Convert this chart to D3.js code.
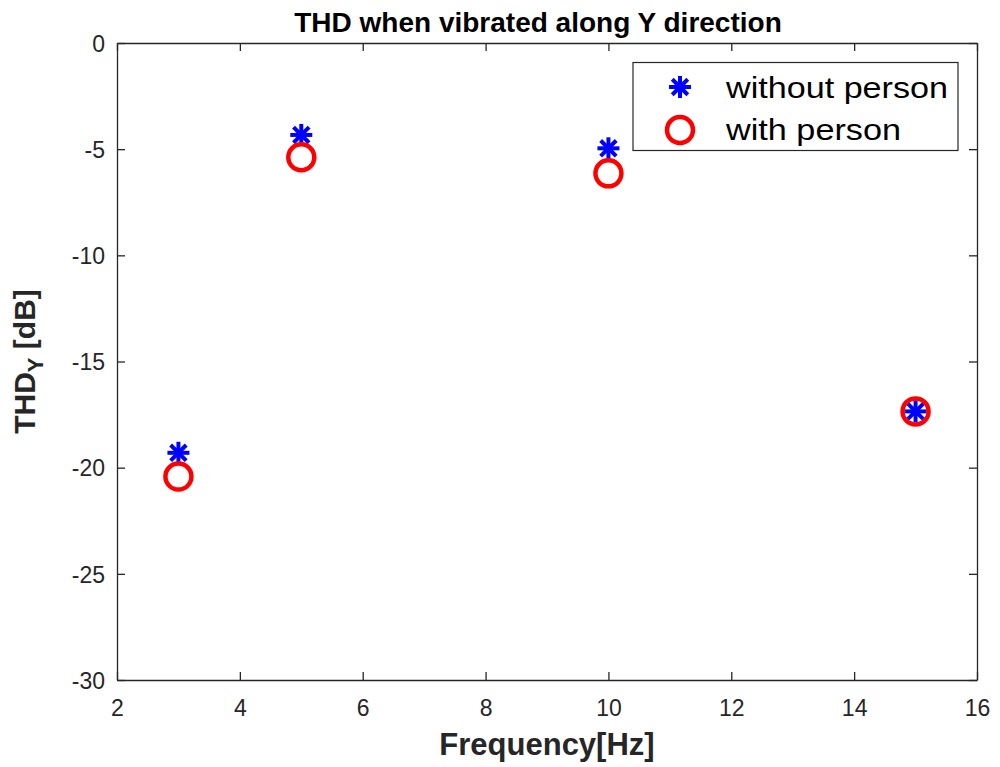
<!DOCTYPE html>
<html>
<head>
<meta charset="utf-8">
<script src="https://cdn.jsdelivr.net/npm/d3@7"></script>
<style>
  body { margin: 0; background: #fff; }
  text { font-family: "Liberation Sans", Arial, sans-serif; }
</style>
</head>
<body>
<div id="chart"></div>
<script>
const colors = { without: '#0000ff', with: '#ff0000', axis: '#262626', text: '#262626' }

// data
const freq = [3, 5, 10, 15]
const thdWithout = [-19.3, -4.33, -4.96, -17.35]
const thdWith = [-20.42, -5.38, -6.14, -17.35]
const xTicks = [2, 4, 6, 8, 10, 12, 14, 16]
const yTicks = [0, -5, -10, -15, -20, -25, -30]
const legendNames = ['without person', 'with person']

let width = 1000, height = 767;
let margin = { left: 117, right: 23, top: 43, bottom: 87 };

let x = d3.scaleLinear().domain([2, 16]).range([margin.left, width - margin.right]);
let y = d3.scaleLinear().domain([-30, 0]).range([height - margin.bottom, margin.top]);

let svg = d3.select('#chart').append('svg')
    .attr('width', width).attr('height', height);

const tickLen = 8;
const fmt = d => String(d);   // plain hyphen minus, like MATLAB

// axes, MATLAB style: ticks inside, box around
let xAxis = svg.append('g')
    .attr('transform', `translate(0,${y(-30)})`)
    .call(d3.axisBottom(x).tickValues(xTicks).tickFormat(fmt).tickSizeInner(-tickLen).tickSizeOuter(0).tickPadding(20));
let xTop = svg.append('g')
    .attr('transform', `translate(0,${y(0)})`)
    .call(d3.axisTop(x).tickValues(xTicks).tickSizeInner(-tickLen).tickSizeOuter(0).tickFormat(''));
let yAxis = svg.append('g')
    .attr('transform', `translate(${x(2)},0)`)
    .call(d3.axisLeft(y).tickValues(yTicks).tickFormat(fmt).tickSizeInner(-tickLen).tickSizeOuter(0).tickPadding(12));
let yRight = svg.append('g')
    .attr('transform', `translate(${x(16)},0)`)
    .call(d3.axisRight(y).tickValues(yTicks).tickSizeInner(-tickLen).tickSizeOuter(0).tickFormat(''));

[xAxis, xTop, yAxis, yRight].forEach(g => {
    g.selectAll('path').attr('stroke', colors.axis).attr('stroke-width', 1.3);
    g.selectAll('line').attr('stroke', colors.axis).attr('stroke-width', 1.3);
    g.selectAll('text')
        .attr('fill', colors.text)
        .style('font-size', '23px')
        .style('font-family', '"Liberation Sans", Arial, sans-serif');
});
xAxis.selectAll('text').attr('dy', '0.71em');
yAxis.selectAll('text').attr('dy', '0.36em');

// markers
const star = (g, r) => {
    [0, 45, 90, 135].forEach(a => {
        g.append('line')
            .attr('x1', -r).attr('y1', 0).attr('x2', r).attr('y2', 0)
            .attr('transform', `rotate(${a})`)
            .attr('stroke', colors.without)
            .attr('stroke-width', 4)
            .attr('stroke-linecap', 'butt');
    });
}

let pts = freq.map((f, i) => ({ f: f, a: thdWithout[i], b: thdWith[i] }));

let g_star = svg.append('g').attr('class', 'stars');
g_star.selectAll('g').data(pts).enter().append('g')
    .attr('transform', d => `translate(${x(d.f)},${y(d.a)})`)
    .each(function () { star(d3.select(this), 11); });

let g_circle = svg.append('g').attr('class', 'circles');
g_circle.selectAll('circle').data(pts).enter().append('circle')
    .attr('cx', d => x(d.f))
    .attr('cy', d => y(d.b))
    .attr('r', 13)
    .attr('fill', 'none')
    .attr('stroke', colors.with)
    .attr('stroke-width', 4.5);

// legend
let lg = svg.append('g').attr('class', 'legend');
lg.append('rect')
    .attr('x', 633).attr('y', 62.5).attr('width', 325).attr('height', 88)
    .attr('fill', '#fff').attr('stroke', colors.axis).attr('stroke-width', 1.2);
let s0 = lg.append('g').attr('transform', 'translate(680,87)');
star(s0, 11);
lg.append('circle').attr('cx', 680).attr('cy', 130).attr('r', 13)
    .attr('fill', 'none').attr('stroke', colors.with).attr('stroke-width', 4.5);
const legendW = [222, 175];
lg.selectAll('text.lt').data(legendNames).enter().append('text')
    .attr('class', 'lt')
    .attr('x', 726)
    .attr('y', (d, i) => 98 + i * 42)
    .attr('fill', '#000')
    .attr('textLength', (d, i) => legendW[i])
    .attr('lengthAdjust', 'spacingAndGlyphs')
    .style('font-size', '30px')
    .text(d => d);

// titles
svg.append('text')
    .attr('x', 538).attr('y', 32)
    .attr('text-anchor', 'middle')
    .attr('fill', '#000')
    .style('font-size', '28px').style('font-weight', 'bold')
    .text('THD when vibrated along Y direction');

svg.append('text')
    .attr('x', (x(2) + x(16)) / 2).attr('y', 755)
    .attr('text-anchor', 'middle')
    .attr('fill', colors.text)
    .style('font-size', '31px').style('font-weight', 'bold')
    .text('Frequency[Hz]');

let yl = svg.append('text')
    .attr('transform', `translate(35,${(y(0) + y(-30)) / 2}) rotate(-90)`)
    .attr('text-anchor', 'middle')
    .attr('fill', colors.text)
    .style('font-size', '30px').style('font-weight', 'bold');
yl.append('tspan').text('THD');
yl.append('tspan').attr('dy', 8).style('font-size', '22px').text('Y');
yl.append('tspan').attr('dy', -8).text(' [dB]');
</script>
</body>
</html>
